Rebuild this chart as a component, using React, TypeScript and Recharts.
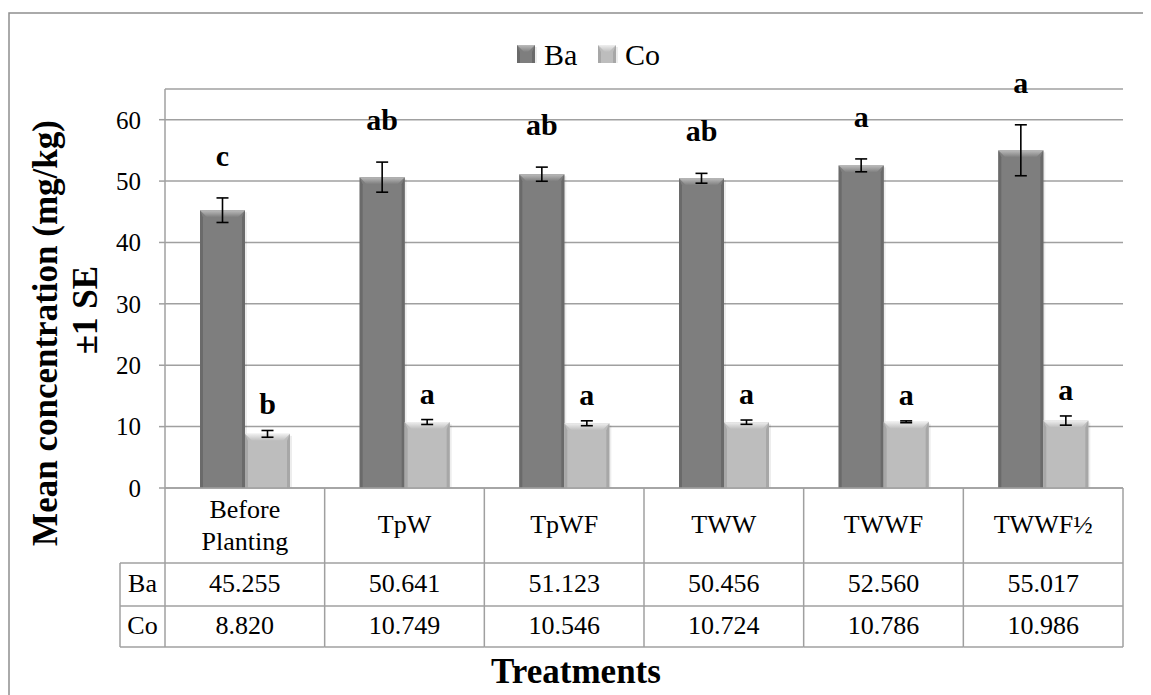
import React from 'react';
import { BarChart, Bar, XAxis, YAxis, CartesianGrid, ErrorBar, LabelList, Customized } from 'recharts';

// ---------- data ----------
const categories = ['Before Planting', 'TpW', 'TpWF', 'TWW', 'TWWF', 'TWWF½'];
const seriesNames = ['Ba', 'Co'];
const baValues = [45.255, 50.641, 51.123, 50.456, 52.56, 55.017];
const coValues = [8.82, 10.749, 10.546, 10.724, 10.786, 10.986];
const baErrors = [2.0, 2.45, 1.15, 0.8, 1.05, 4.15];
const coErrors = [0.55, 0.4, 0.4, 0.35, 0.15, 0.75];
const baLetters = ['c', 'ab', 'ab', 'ab', 'a', 'a'];
const coLetters = ['b', 'a', 'a', 'a', 'a', 'a'];
const yTicks = [0, 10, 20, 30, 40, 50, 60];
const yMax = 65;
const yTitleLines = ['Mean concentration (mg/kg)', '±1 SE'];
const xTitle = 'Treatments';

const data = categories.map((name, i) => ({
  name,
  Ba: baValues[i],
  Co: coValues[i],
  baErr: baErrors[i],
  coErr: coErrors[i],
  baTag: `${baLetters[i]}|${baErrors[i]}`,
  coTag: `${coLetters[i]}|${coErrors[i]}`,
}));

// ---------- layout / style ----------
const FONT = '"Liberation Serif", "Times New Roman", serif';
const W = 1135;
const H = 687;
const MARGIN = { top: 81, right: 20, bottom: 47, left: 97 };
const YAXIS_W = 60;
const XAXIS_H = 160;
const PLOT_L = MARGIN.left + YAXIS_W;
const PLOT_R = W - MARGIN.right;
const PLOT_B = H - MARGIN.bottom - XAXIS_H;
const PLOT_T = MARGIN.top;
const PPU = (PLOT_B - PLOT_T) / yMax;
const CELL_W = (PLOT_R - PLOT_L) / categories.length;
const ROW_HEAD_B = PLOT_B + 75;
const ROW_BA_B = ROW_HEAD_B + 43;
const ROW_CO_B = ROW_BA_B + 41;
const LABEL_COL_L = PLOT_L - 45;
const LINE = '#a0a0a0';

const seriesStyle: Record<string, { base: string; dark: string; light: string }> = {
  Ba: { base: '#7e7e7e', dark: '#6a6a6a', light: '#bcbcbc' },
  Co: { base: '#bdbdbd', dark: '#a7a7a7', light: '#efefef' },
};

function BevelRect(props: any) {
  const { x, y, width: w, height: h, st, gid } = props;
  if (!(h > 0) || !(w > 0)) return null;
  const b = Math.min(7, h / 2, w / 2);
  const s = Math.min(3, w / 4);
  return (
    <g>
      <defs>
        <linearGradient id={gid} x1="0" y1="0" x2="0" y2="1">
          <stop offset="0" stopColor={st.light} />
          <stop offset="1" stopColor={st.base} />
        </linearGradient>
      </defs>
      <rect x={x + 2} y={y + 2} width={w} height={h - 2} fill="#000" opacity={0.07} />
      <rect x={x} y={y} width={w} height={h} fill={st.base} />
      <polygon points={`${x},${y} ${x + s},${y + b} ${x + s},${y + h} ${x},${y + h}`} fill={st.dark} />
      <polygon points={`${x + w},${y} ${x + w - s},${y + b} ${x + w - s},${y + h} ${x + w},${y + h}`} fill={st.dark} />
      <polygon points={`${x},${y} ${x + w},${y} ${x + w - b},${y + b} ${x + b},${y + b}`} fill={`url(#${gid})`} />
    </g>
  );
}

const makeShape = (key: string) => (props: any) => (
  <BevelRect x={props.x} y={props.y} width={props.width} height={props.height} st={seriesStyle[key]} gid={`grad-${key}`} />
);

const renderLetter = (gap: number) => (props: any) => {
  const vb = props.viewBox || {};
  const x = Number(props.x ?? vb.x);
  const y = Number(props.y ?? vb.y);
  const w = Number(props.width ?? vb.width);
  const [letter, err] = String(props.value).split('|');
  const by = y - Number(err) * PPU - gap;
  return (
    <text x={x + w / 2} y={by} textAnchor="middle" fontFamily={FONT} fontWeight="bold" fontSize={30} fill="#000">
      {letter}
    </text>
  );
};

const TableTick = (props: any) => {
  const { x, payload, index } = props;
  const cx = Number(x);
  const left = cx - CELL_W / 2;
  const right = cx + CELL_W / 2;
  const i = Number(index);
  const lines = String(payload.value).split(' ');
  const txt = { fontFamily: FONT, fontSize: 26, fill: '#000', textAnchor: 'middle' as const };
  const ln = { stroke: LINE, strokeWidth: 1.5 };
  return (
    <g>
      {i === 0 && <line x1={left} y1={PLOT_B} x2={left} y2={ROW_CO_B} {...ln} />}
      <line x1={right} y1={PLOT_B} x2={right} y2={ROW_CO_B} {...ln} />
      <line x1={left} y1={ROW_HEAD_B} x2={right} y2={ROW_HEAD_B} {...ln} />
      <line x1={left} y1={ROW_BA_B} x2={right} y2={ROW_BA_B} {...ln} />
      <line x1={left} y1={ROW_CO_B} x2={right} y2={ROW_CO_B} {...ln} />
      {lines.length === 1 ? (
        <text x={cx} y={PLOT_B + 45} {...txt}>{lines[0]}</text>
      ) : (
        lines.map((l, k) => (
          <text key={k} x={cx} y={PLOT_B + 30 + k * 32} {...txt}>{l}</text>
        ))
      )}
      <text x={cx} y={ROW_HEAD_B + 29} {...txt}>{baValues[i].toFixed(3)}</text>
      <text x={cx} y={ROW_BA_B + 28} {...txt}>{coValues[i].toFixed(3)}</text>
      {i === 0 && (
        <g>
          <line x1={LABEL_COL_L} y1={ROW_HEAD_B} x2={left} y2={ROW_HEAD_B} {...ln} />
          <line x1={LABEL_COL_L} y1={ROW_BA_B} x2={left} y2={ROW_BA_B} {...ln} />
          <line x1={LABEL_COL_L} y1={ROW_CO_B} x2={left} y2={ROW_CO_B} {...ln} />
          <line x1={LABEL_COL_L} y1={ROW_HEAD_B} x2={LABEL_COL_L} y2={ROW_CO_B} {...ln} />
          <text x={(LABEL_COL_L + left) / 2} y={ROW_HEAD_B + 29} {...txt}>{seriesNames[0]}</text>
          <text x={(LABEL_COL_L + left) / 2} y={ROW_BA_B + 28} {...txt}>{seriesNames[1]}</text>
        </g>
      )}
    </g>
  );
};

const Decor = () => (
  <g>
    <rect x={1} y={5} width={3000} height={3000} fill="none" stroke="#8e8e8e" strokeWidth={1.5} />
    {seriesNames.map((n, k) => {
      const sx = 509 + k * 81;
      return (
        <g key={n}>
          <BevelRect x={sx} y={37} width={18} height={18} st={seriesStyle[n]} gid={`leg-${n}`} />
          <text x={sx + 27} y={57} fontFamily={FONT} fontSize={30} fill="#000">{n}</text>
        </g>
      );
    })}
    <text transform="translate(49,325) rotate(-90)" textAnchor="middle" fontFamily={FONT} fontWeight="bold" fontSize={35} fill="#000">
      {yTitleLines[0]}
    </text>
    <text transform="translate(89,302) rotate(-90)" textAnchor="middle" fontFamily={FONT} fontWeight="bold" fontSize={35} fill="#000">
      {yTitleLines[1]}
    </text>
    <text x={568} y={675} textAnchor="middle" fontFamily={FONT} fontWeight="bold" fontSize={35} fill="#000">
      {xTitle}
    </text>
  </g>
);

export default function App() {
  return (
    <div style={{ width: W, height: H }}>
      <BarChart width={W} height={H} data={data} margin={MARGIN} barGap={0} barSize={45}>
        <Customized component={<Decor />} />
        <CartesianGrid vertical={false} stroke={LINE} strokeWidth={1.5} />
        <XAxis
          dataKey="name"
          height={XAXIS_H}
          interval={0}
          tickLine={false}
          axisLine={{ stroke: LINE, strokeWidth: 1.5 }}
          tick={(p: any) => <TableTick {...p} />}
        />
        <YAxis
          width={YAXIS_W}
          domain={[0, yMax]}
          ticks={yTicks}
          interval={0}
          tickSize={6}
          tickMargin={18}
          axisLine={{ stroke: LINE, strokeWidth: 1.5 }}
          tickLine={{ stroke: LINE, strokeWidth: 1.5 }}
          tick={{ fontFamily: FONT, fontSize: 25, fill: '#000' }}
        />
        <Bar dataKey="Ba" isAnimationActive={false} shape={makeShape('Ba')} fill={seriesStyle.Ba.base}>
          <ErrorBar dataKey="baErr" width={6} stroke="#000" strokeWidth={1.6} direction="y" />
          <LabelList dataKey="baTag" content={renderLetter(32)} />
        </Bar>
        <Bar dataKey="Co" isAnimationActive={false} shape={makeShape('Co')} fill={seriesStyle.Co.base}>
          <ErrorBar dataKey="coErr" width={6} stroke="#000" strokeWidth={1.6} direction="y" />
          <LabelList dataKey="coTag" content={renderLetter(16)} />
        </Bar>
      </BarChart>
    </div>
  );
}
